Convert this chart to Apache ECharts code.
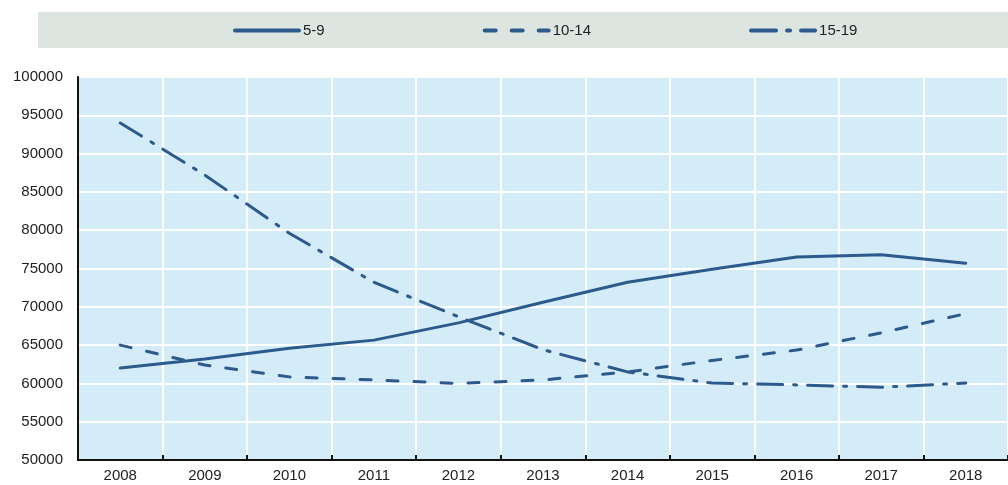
<!DOCTYPE html>
<html>
<head>
<meta charset="utf-8">
<script src="https://cdn.jsdelivr.net/npm/echarts@6/dist/echarts.min.js"></script>
<style>
  html, body { margin: 0; padding: 0; background: #fff; }
  #chart { width: 1008px; height: 485px; }
</style>
</head>
<body>
<div id="chart"></div>
<script>
// years on the x axis
const years = ['2008', '2009', '2010', '2011', '2012', '2013', '2014', '2015', '2016', '2017', '2018'];
// enrolment by age group
const age5to9 = [62000, 63200, 64600, 65650, 67900, 70600, 73200, 74900, 76500, 76800, 75700];
const age10to14 = [65000, 62400, 60850, 60450, 60000, 60450, 61500, 63000, 64350, 66600, 69100];
const age15to19 = [94000, 87200, 79600, 73200, 68700, 64400, 61500, 60050, 59800, 59500, 60050];

const lineColor = '#2d5a8c';
const chart = echarts.init(document.getElementById('chart'));

function lineSeries(name, data, dash) {
  return {
    name: name,
    type: 'line',
    data: data,
    symbol: 'none',
    showSymbol: false,
    smooth: false,
    lineStyle: { color: lineColor, width: 3, type: dash, cap: 'round' },
    itemStyle: { color: lineColor }
  };
}

chart.setOption({
  animation: false,
  textStyle: { fontFamily: 'Liberation Sans, Arial, sans-serif' },
  graphic: [
    {
      type: 'rect',
      left: 38, top: 12,
      shape: { width: 970, height: 36 },
      style: { fill: '#dde5e1' },
      z: -10
    }
  ],
  legend: {
    top: 23,
    left: 233,
    padding: 0,
    itemGap: 158,
    itemWidth: 64,
    itemHeight: 14,
    itemStyle: { opacity: 0 },
    lineStyle: { width: 4 },
    textStyle: { fontSize: 15, color: '#222', padding: [0, 0, 0, -1] },
    data: ['5-9', '10-14', '15-19']
  },
  grid: {
    left: 78,
    right: 0,
    top: 77,
    bottom: 25,
    show: true,
    backgroundColor: '#d4ebf8',
    borderWidth: 0
  },
  xAxis: {
    type: 'category',
    data: years,
    boundaryGap: true,
    axisLine: { lineStyle: { color: '#111', width: 2 } },
    axisTick: { show: true, inside: true, length: 5, lineStyle: { color: '#111', width: 2 } },
    axisLabel: { fontSize: 15, color: '#222', margin: 8 },
    splitLine: { show: true, lineStyle: { color: '#ffffff', width: 2 } }
  },
  yAxis: {
    type: 'value',
    min: 50000,
    max: 100000,
    interval: 5000,
    axisLine: { show: true, lineStyle: { color: '#111', width: 2 } },
    axisTick: { show: false },
    axisLabel: { fontSize: 15, color: '#222', margin: 15, formatter: (v) => String(v) },
    splitLine: { lineStyle: { color: '#ffffff', width: 2 } }
  },
  series: [
    lineSeries('5-9', age5to9, 'solid'),
    lineSeries('10-14', age10to14, [11, 16]),
    lineSeries('15-19', age15to19, [25, 11, 3, 11])
  ]
});
</script>
</body>
</html>
